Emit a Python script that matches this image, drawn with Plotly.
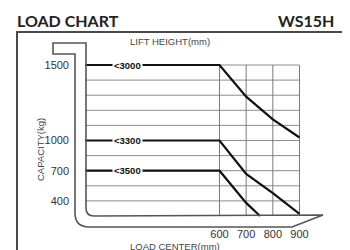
import numpy as np
import plotly.graph_objects as go

# ---------------- data ----------------
lift_heights = ["3000", "3300", "3500"]
load_center_ticks = [600, 700, 800, 900]
capacity_ticks = [400, 700, 1000, 1500]

lc_3000 = [600, 700, 800, 900]
cap_3000 = [1500, 1290, 1140, 1020]
lc_3300 = [600, 700, 800, 900]
cap_3300 = [1000, 668, 478, 270]
lc_3500 = [600, 700, 752]
cap_3500 = [700, 380, 250]

# schematic (piecewise) capacity scale used by the chart: capacity -> grid row
scale_cap = [250, 1000, 1500]
scale_row = [0, 5, 10]


def row(c):
    return np.interp(c, scale_cap, scale_row)


NARROW = "Liberation Sans Narrow, Arial Narrow, Liberation Sans, sans-serif"

# ---------------- geometry ----------------
OFF = 8                      # page body margin
W, H = 350 - OFF, 250 - OFF  # figure size so the page fits the window
PX600, PXMM = 219.5 - OFF, 80 / 300      # x pixel of 600 mm, px per mm
ROW0, PXROW = 216.0 - OFF, 15.1          # y pixel of row 0, px per row
x_range = [600 - PX600 / PXMM, 600 + (W - PX600) / PXMM]
y_range = [-(H - ROW0) / PXROW, ROW0 / PXROW]
GRID_X0 = 600 - (PX600 - (85 - OFF)) / PXMM   # grid starts at mast inner line


def P(x, y):
    """reference-window pixel -> paper coords"""
    return (x - OFF) / W, 1 - (y - OFF) / H


def mm_at(xpix):
    return 600 - (PX600 - (xpix - OFF)) / PXMM


fig = go.Figure()

shapes = []
# grid lines
for r in range(1, 11):
    shapes.append(dict(type="line", xref="x", yref="y", x0=GRID_X0, x1=900, y0=r, y1=r,
                       line=dict(color="#8c8c8c", width=1), layer="below"))
for lc in load_center_ticks:
    shapes.append(dict(type="line", xref="x", yref="y", x0=lc, x1=lc, y0=0, y1=10,
                       line=dict(color="#7a7a7a", width=1), layer="below"))


def make_path(pts):
    path = ""
    for p in pts:
        if p[0] == "Z":
            path += " Z"
            continue
        coords = p[1:]
        seg = []
        for i in range(0, len(coords), 2):
            a, b = P(coords[i], coords[i + 1])
            seg.append(f"{a:.5f},{b:.5f}")
        path += f" {p[0]}{' '.join(seg)}"
    return path.strip()


# outer frame (left, top, right)
shapes.append(dict(type="path", xref="paper", yref="paper",
                   path=make_path([("M", 17, 252), ("L", 17, 32), ("L", 343, 32), ("L", 343, 252)]),
                   line=dict(color="#4a4a4a", width=2)))

# mast + fork outline
pts = [("M", 86, 43), ("L", 86, 208), ("Q", 86, 216, 94, 216), ("L", 323, 215),
       ("L", 292, 227), ("L", 89, 227), ("Q", 75, 227, 75, 213), ("L", 75, 54),
       ("L", 53, 54), ("L", 53, 43), ("Z",)]
shapes.append(dict(type="path", xref="paper", yref="paper", path=make_path(pts),
                   line=dict(color="#555555", width=1.6)))

# capacity curves
series = [(lc_3000, cap_3000), (lc_3300, cap_3300), (lc_3500, cap_3500)]
annotations = []
for name, (lc, cap) in zip(lift_heights, series):
    xs = [GRID_X0] + list(lc)
    ys = [row(cap[0])] + list(row(np.array(cap)))
    fig.add_trace(go.Scatter(x=xs, y=ys, mode="lines", line=dict(color="#111111", width=2.2),
                             hoverinfo="skip", showlegend=False))
    annotations.append(dict(x=mm_at(127.5), y=row(cap[0]), xref="x", yref="y",
                            text="<b>&lt;" + name + "</b>", showarrow=False, bgcolor="white",
                            borderpad=1,
                            font=dict(family=NARROW, size=9.5, color="#111111")))

# titles
annotations += [
    dict(x=P(15, 0)[0], y=P(0, 20.5)[1], xref="paper", yref="paper", xanchor="left", yanchor="middle",
         text="<b>LOAD CHART</b>", showarrow=False,
         font=dict(family="Lato", size=16, color="#222222")),
    dict(x=P(336, 0)[0], y=P(0, 20.5)[1], xref="paper", yref="paper", xanchor="right", yanchor="middle",
         text="<b>WS15H</b>", showarrow=False,
         font=dict(family="Lato", size=16, color="#222222")),
    dict(x=P(170, 0)[0], y=P(0, 42)[1], xref="paper", yref="paper", xanchor="center", yanchor="middle",
         text="LIFT HEIGHT(mm)", showarrow=False,
         font=dict(family="Liberation Sans", size=9.5, color="#444444")),
    dict(x=P(40, 0)[0], y=P(0, 150)[1], xref="paper", yref="paper", xanchor="center", yanchor="middle",
         text="CAPACITY(kg)", showarrow=False, textangle=-90,
         font=dict(family="Liberation Sans", size=9.5, color="#444444")),
    dict(x=P(175, 0)[0], y=P(0, 246)[1], xref="paper", yref="paper", xanchor="center", yanchor="middle",
         text="LOAD CENTER(mm)", showarrow=False,
         font=dict(family="Liberation Sans", size=9.5, color="#444444")),
]

fig.update_layout(
    width=W, height=H, margin=dict(l=0, r=0, t=0, b=0),
    paper_bgcolor="white", plot_bgcolor="white",
    shapes=shapes, annotations=annotations,
    xaxis=dict(range=x_range, anchor="free", position=1 - (226 - OFF) / H, showgrid=False,
               zeroline=False, showline=False, ticks="", tickvals=load_center_ticks,
               ticktext=[str(v) for v in load_center_ticks],
               tickfont=dict(family=NARROW, size=11, color="#333333")),
    yaxis=dict(range=y_range, anchor="free", position=(69 - OFF) / W, showgrid=False,
               zeroline=False, showline=False, ticks="", tickvals=list(row(np.array(capacity_ticks))),
               ticktext=[str(v) for v in capacity_ticks],
               tickfont=dict(family=NARROW, size=11, color="#333333")),
)

fig.write_html("out.html")
